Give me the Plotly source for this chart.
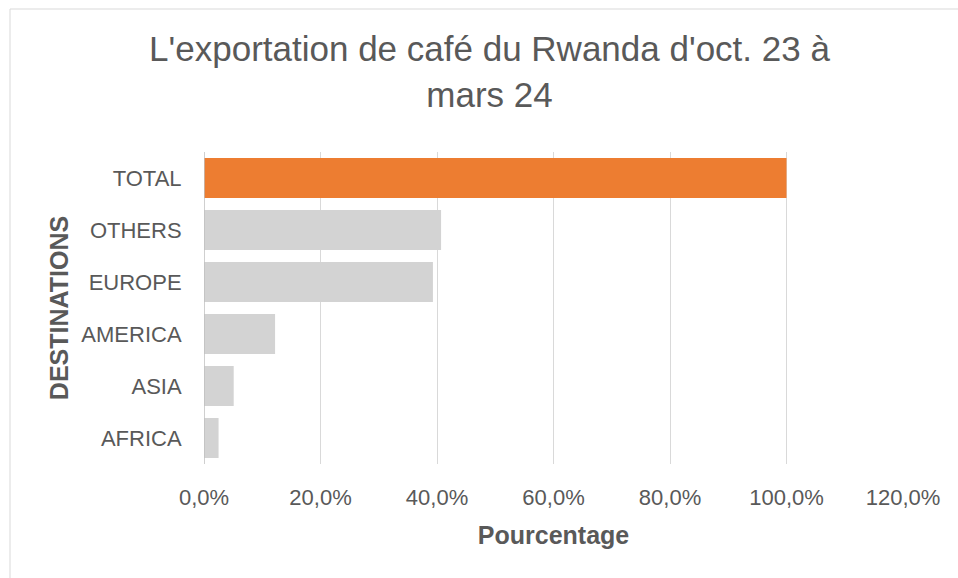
import plotly.graph_objects as go

categories = ["AFRICA", "ASIA", "AMERICA", "EUROPE", "OTHERS", "TOTAL"]
values = [0.025, 0.051, 0.122, 0.393, 0.407, 1.0]
colors = ["#D3D3D3", "#D3D3D3", "#D3D3D3", "#D3D3D3", "#D3D3D3", "#ED7D31"]
tick_vals = [0, 0.2, 0.4, 0.6, 0.8, 1.0, 1.2]
tick_text = ["0,0%", "20,0%", "40,0%", "60,0%", "80,0%", "100,0%", "120,0%"]

FONT = "Liberation Sans, Arial, sans-serif"
TXT = "#595959"

fig = go.Figure(go.Bar(
    x=values, y=categories, orientation="h",
    marker=dict(color=colors, line=dict(width=0)),
))

fig.update_layout(
    width=958, height=578,
    margin=dict(l=204, r=55, t=152, b=114),
    paper_bgcolor="white", plot_bgcolor="white",
    bargap=0.23,
    showlegend=False,
    title=dict(
        text="L'exportation de café du Rwanda d'oct. 23 à<br>mars 24",
        x=489.5 / 958, xref="container", xanchor="center",
        y=1 - 61 / 578, yref="container", yanchor="top",
        font=dict(family=FONT, size=35, color=TXT),
    ),
    font=dict(family=FONT, color=TXT),
    shapes=[
        dict(type="rect", xref="paper", yref="paper",
             x0=-194 / 699, x1=1.2, y0=-2, y1=1 + 143 / 312,
             line=dict(color="#D9D9D9", width=1), fillcolor="rgba(0,0,0,0)",
             layer="below"),
    ],
)

fig.update_xaxes(
    range=[0, 1.2], automargin=False,
    tickvals=tick_vals, ticktext=tick_text,
    showgrid=True, gridcolor="#D9D9D9", gridwidth=1,
    zeroline=False, showline=False,
    tickfont=dict(family=FONT, size=22, color=TXT),
    ticks="outside", ticklen=14, tickcolor="rgba(0,0,0,0)",
    title=dict(text="<b>Pourcentage</b>", font=dict(family=FONT, size=25, color=TXT), standoff=17),
)
fig.update_yaxes(
    showgrid=False, zeroline=False, automargin=False,
    showline=False,
    tickfont=dict(family=FONT, size=22, color=TXT),
    ticks="outside", ticklen=17, tickcolor="rgba(0,0,0,0)",
    title=dict(text="<b>DESTINATIONS</b>", font=dict(family=FONT, size=25, color=TXT), standoff=5),
)

fig.add_shape(type="line", xref="x", yref="paper", x0=0, x1=0, y0=0, y1=1,
              line=dict(color="#BFBFBF", width=1.5))

fig.write_html("out.html", config={"displayModeBar": False},
               post_script="document.body.style.margin='0';")
